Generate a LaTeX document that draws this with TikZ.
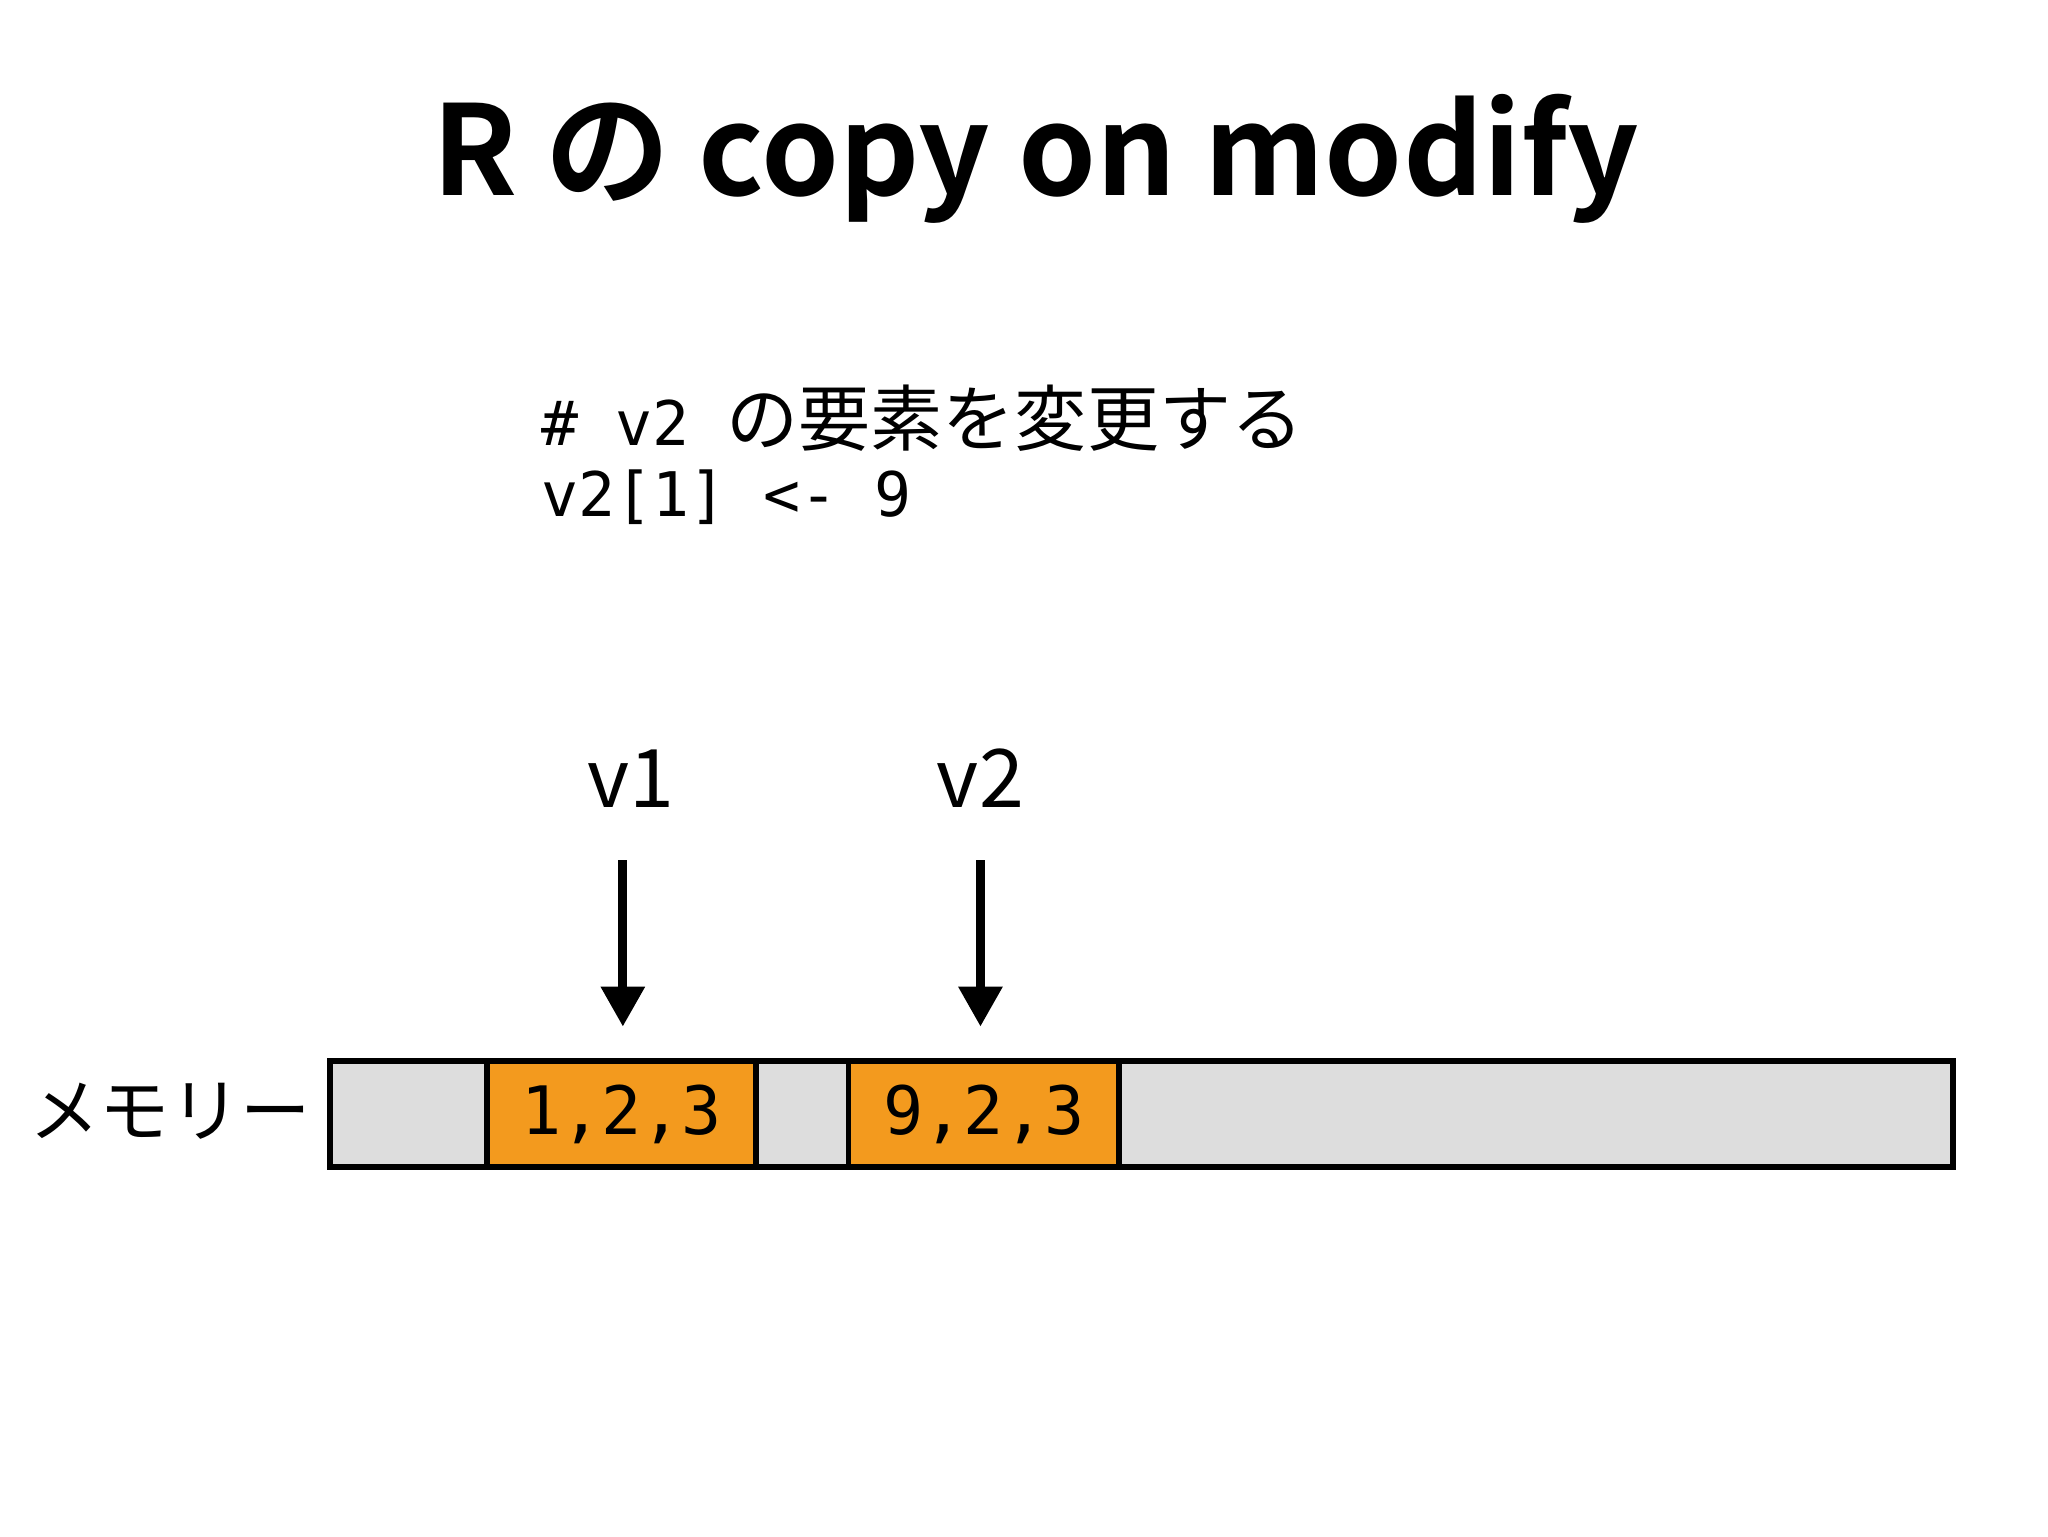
\documentclass[tikz,border=0pt]{standalone}
\usepackage{fontspec}
\usetikzlibrary{arrows.meta}
\setmainfont{Noto Sans CJK JP}
\newfontfamily\jpb{Noto Sans CJK JP}[BoldFont={* Bold}]
\newfontfamily\monof{DejaVu Sans Mono}
\newfontfamily\jpf{Noto Sans CJK JP}
\definecolor{orng}{HTML}{F39A1E}
\definecolor{gry}{HTML}{DDDDDD}
\begin{document}
\begin{tikzpicture}[x=0.0132cm,y=-0.0132cm,
  cell/.style={draw=black,line width=1.6pt,minimum height=80*0.0132cm,inner sep=0,anchor=north west},
  gcell/.style={cell,fill=gry},
  ocell/.style={cell,fill=orng,font=\monof\fontsize{19}{23}\selectfont},
  ptr/.style={line width=2.6pt,-{Triangle[width=0.42cm,length=0.4cm]}},
  lab/.style={font=\jpf\fontsize{23}{28}\selectfont}]
\useasboundingbox (0,0) rectangle (1552,1164);
\node (title) at (785,120) {\jpb\bfseries\fontsize{35.5}{43}\selectfont R の copy on modify};
\node[anchor=west,inner sep=0] (c1) at (410,317) {\fontsize{17.5}{21}\selectfont\monof \# v2 \jpf\fontsize{20.5}{24}\selectfont の要素を変更する};
\node[anchor=west,inner sep=0] (c2) at (410,377) {\fontsize{17.5}{21}\selectfont\monof v2[1] <- 9};
\node[gcell,minimum width=119*0.0132cm] (g1) at (248,802) {};
\node[ocell,minimum width=204*0.0132cm] (o1) at (367,802) {1,2,3};
\node[gcell,minimum width=70*0.0132cm] (g2) at (571,802) {};
\node[ocell,minimum width=205*0.0132cm] (o2) at (641,802) {9,2,3};
\node[gcell,minimum width=632*0.0132cm] (g3) at (846,802) {};
\node[font=\jpf\fontsize{20}{24}\selectfont,anchor=east,inner sep=0] (mem) at (236,842) {メモリー};
\node[lab] (v1) at (478,590) {v1};
\node[lab] (v2) at (743,590) {v2};
\coordinate (a1s) at (472,652); \coordinate (a1e) at (472,778);
\coordinate (a2s) at (743,652); \coordinate (a2e) at (743,778);
\draw[ptr] (a1s) -- (a1e);
\draw[ptr] (a2s) -- (a2e);
\end{tikzpicture}
\end{document}
